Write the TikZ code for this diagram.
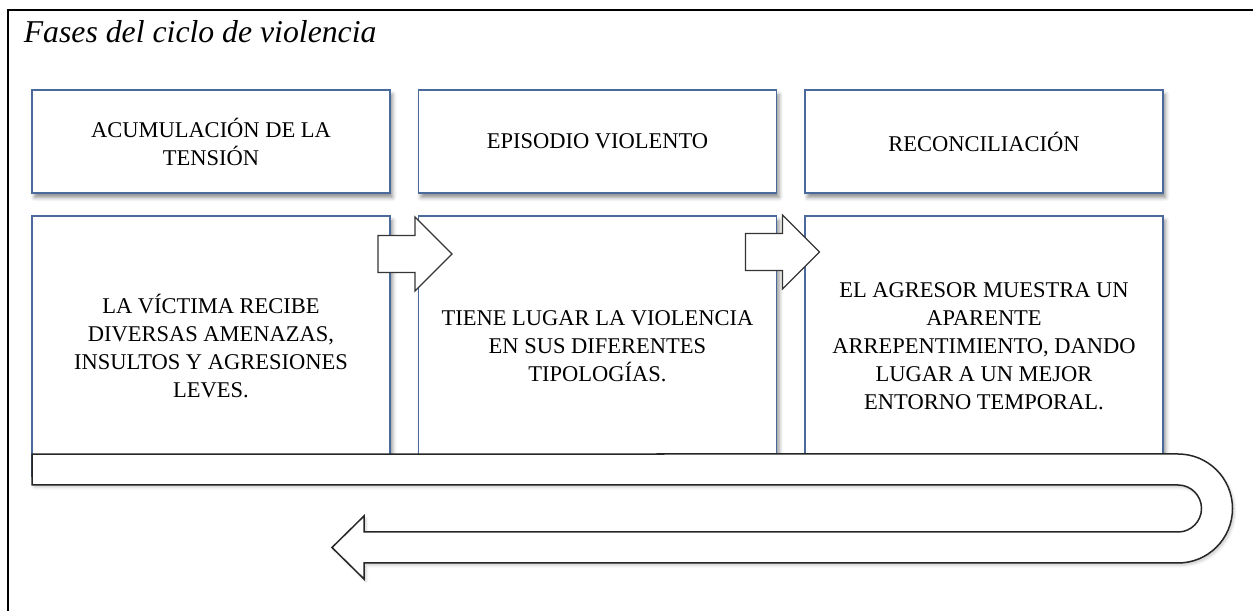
\documentclass[tikz,border=0pt]{standalone}
\usepackage{fontspec}
\setmainfont{Liberation Serif}
\usetikzlibrary{calc,shadows.blur}
\definecolor{cbox}{HTML}{4A6A9C}
\definecolor{carrow}{HTML}{353535}

\begin{document}
\begin{tikzpicture}[x=0.4pt, y=-0.4pt, font=\fontsize{9}{11.2}\selectfont,
    phase/.style={draw=cbox, line width=0.45pt, fill=white, anchor=north west, align=center,
                  minimum width=143.2pt, minimum height=41.2pt, inner sep=0pt, outer sep=0pt,
                  blur shadow={shadow xshift=1pt, shadow yshift=-1.8pt, shadow blur radius=1.6pt, shadow opacity=45}},
    detail/.style={phase, minimum height=104pt},
    blockarr/.style={draw=carrow, line width=0.55pt, fill=white, line join=miter},
    band/.style={draw=black!85, line width=0.6pt, fill=white,
                 blur shadow={shadow xshift=0.8pt, shadow yshift=-1pt, shadow blur radius=1pt, shadow opacity=20}}]
  \useasboundingbox (0,0) rectangle (1253,611);
  \def\ro{54.5}   % outer radius of the turn
  \def\ri{23.5}   % inner radius of the turn
  % frame and title
  \draw[line width=0.8pt] (8,611) -- (8,10) -- (1253,10);
  \node[anchor=base west, font=\fontsize{12.7}{15}\selectfont\itshape] (titulo) at (15,43) {Fases del ciclo de violencia};
  % phases
  \node[phase] (acum)     at (32,90)    {ACUMULACIÓN DE LA\\TENSIÓN};
  \node[phase] (episodio) at (418.5,90) {EPISODIO VIOLENTO};
  \node[phase] (reconc)   at (805,90)   {RECONCILIACIÓN};
  % what happens in each phase
  \node[detail] (acumdet)  at (32,216)    {LA VÍCTIMA RECIBE\\DIVERSAS AMENAZAS,\\INSULTOS Y AGRESIONES\\LEVES.};
  \node[detail] (episdet)  at (418.5,216) {TIENE LUGAR LA VIOLENCIA\\EN SUS DIFERENTES\\TIPOLOGÍAS.};
  \node[detail] (recondet) at (805,216)   {EL AGRESOR MUESTRA UN\\APARENTE\\ARREPENTIMIENTO, DANDO\\LUGAR A UN MEJOR\\ENTORNO TEMPORAL.};
  % block arrows from one phase to the next
  \foreach \nd/\dx/\dy in {acumdet/-12/38, episdet/-31/36}
    \draw[blockarr] ($(\nd.north east)+(\dx,\dy)$) ++(0,-18.5) -- ++(37,0) -- ++(0,-18.5) -- ++(37,37)
      -- ++(-37,37) -- ++(0,-18.5) -- ++(-37,0) -- cycle;
  % turning band back to the start
  \coordinate (bandL) at ($(acumdet.south west)+(0,-22)$);
  \coordinate (turn) at (1178,454);
  \draw[band] (bandL) -- (turn) arc[start angle=-90, end angle=90, radius=\ro]
    -- (364,563) -- (364,579) -- (332,547.5) -- (364,516) -- (364,532) -- (1178,532)
    arc[start angle=90, end angle=-90, radius=\ri] -- (32,485) -- cycle;
\end{tikzpicture}
\end{document}
